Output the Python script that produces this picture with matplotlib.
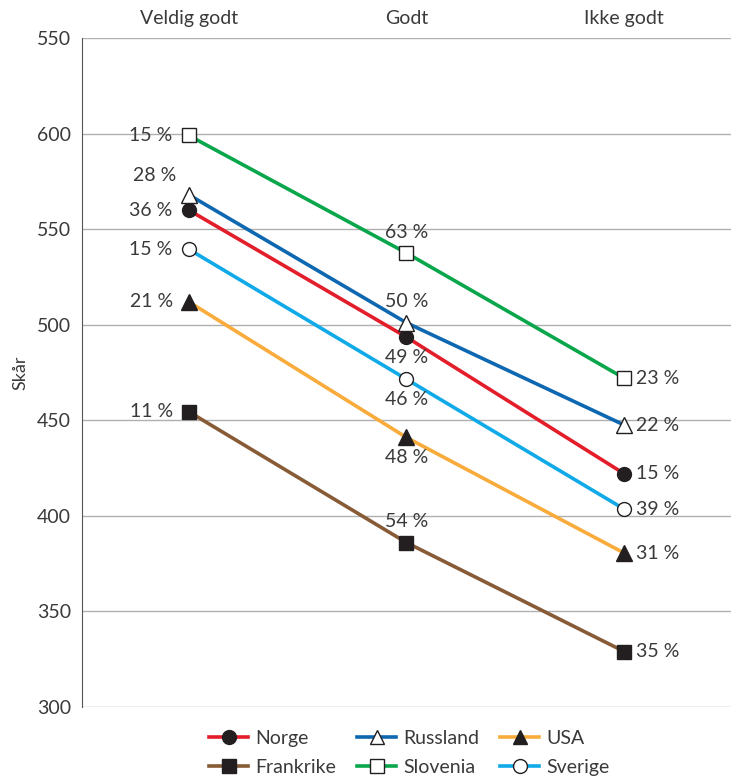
import matplotlib.pyplot as plt
from matplotlib.lines import Line2D

plt.rcParams["font.family"] = ["Lato", "DejaVu Sans"]

# Data
categories = ["Veldig godt", "Godt", "Ikke godt"]
countries = ["Norge", "Russland", "USA", "Frankrike", "Slovenia", "Sverige"]
scores = {
    "Norge":     [560, 493.5, 422],
    "Russland":  [568, 501, 447.5],
    "USA":       [512, 441, 380.5],
    "Frankrike": [454.5, 386, 329],
    "Slovenia":  [599, 537.5, 472],
    "Sverige":   [539.5, 471.5, 403.5],
}
shares = {
    "Norge":     ["36 %", "49 %", "15 %"],
    "Russland":  ["28 %", "50 %", "22 %"],
    "USA":       ["21 %", "48 %", "31 %"],
    "Frankrike": ["11 %", "54 %", "35 %"],
    "Slovenia":  ["15 %", "63 %", "23 %"],
    "Sverige":   ["15 %", "46 %", "39 %"],
}
y_ticks = [300, 350, 400, 450, 500, 550, 600, 650]
y_tick_labels = ["300", "350", "400", "450", "500", "550", "600", "550"]

# Styles
COLORS = {
    "Norge": "#e31e2a", "Russland": "#0d68b1", "USA": "#f9ab3c",
    "Frankrike": "#875b36", "Slovenia": "#0aa64b", "Sverige": "#11aae8",
}
MARKERS = {
    "Norge": ("o", "#231f20"), "Russland": ("^", "white"), "USA": ("^", "#231f20"),
    "Frankrike": ("s", "#231f20"), "Slovenia": ("s", "white"), "Sverige": ("o", "white"),
}
TEXT = "#3a3a3a"
# label placement per column: (dx px, dy px, ha)
LEFT = (-16, 0, "right")
ABOVE = (0, 21, "center")
BELOW = (0, -20, "center")
RIGHT = (12, 0, "left")
placement = {
    "Norge":     [LEFT, BELOW, RIGHT],
    "Russland":  [(-12, 19, "right"), ABOVE, RIGHT],
    "USA":       [LEFT, BELOW, RIGHT],
    "Frankrike": [LEFT, ABOVE, RIGHT],
    "Slovenia":  [LEFT, ABOVE, RIGHT],
    "Sverige":   [LEFT, BELOW, RIGHT],
}

fig = plt.figure(figsize=(7.31, 7.82), dpi=100)
ax = fig.add_axes([82 / 731, 1 - 707 / 782, 1 - 82 / 731, (707 - 38) / 782])

xs = list(range(len(categories)))
for c in countries:
    m, fc = MARKERS[c]
    ax.plot(xs, scores[c], color=COLORS[c], lw=2.6, zorder=2)
    ax.plot(xs, scores[c], ls="none", marker=m, ms=10 if m != "^" else 11,
            mfc=fc, mec="#231f20", mew=1.0, zorder=3)
    for i, (x, y) in enumerate(zip(xs, scores[c])):
        dx, dy, ha = placement[c][i]
        ax.annotate(shares[c][i], (x, y), xytext=(dx, dy), textcoords="offset pixels",
                    ha=ha, va="center", fontsize=14, color=TEXT, zorder=4)

ax.set_xlim(-0.49, 2.49)
ax.set_ylim(300, 650)
ax.set_yticks(y_ticks)
ax.set_yticklabels(y_tick_labels)
ax.yaxis.grid(True, color="#b0b0b0", lw=1.0)
ax.set_axisbelow(True)
ax.tick_params(axis="y", length=0, pad=8, labelsize=14, labelcolor=TEXT)
ax.xaxis.tick_top()
ax.set_xticks(xs)
ax.set_xticklabels(categories)
ax.tick_params(axis="x", length=0, pad=8, labelsize=14, labelcolor=TEXT)
for s in ["top", "right", "bottom"]:
    ax.spines[s].set_visible(False)
ax.spines["left"].set_color("#555555")
ax.set_ylabel("Skår", fontsize=13, color=TEXT, labelpad=6)

legend_order = ["Norge", "Frankrike", "Russland", "Slovenia", "USA", "Sverige"]
handles = [
    Line2D([0], [0], color=COLORS[c], lw=2.6, marker=MARKERS[c][0], ms=10,
           mfc=MARKERS[c][1], mec="#231f20", mew=1.0)
    for c in legend_order
]
fig.legend(handles, legend_order, loc="upper center", bbox_to_anchor=(0.56, 0.089),
           ncol=3, frameon=False, fontsize=14, handlelength=2.0, handletextpad=0.35,
           columnspacing=1.1, labelspacing=0.6, labelcolor=TEXT)

fig.savefig("out.png", dpi=100)
